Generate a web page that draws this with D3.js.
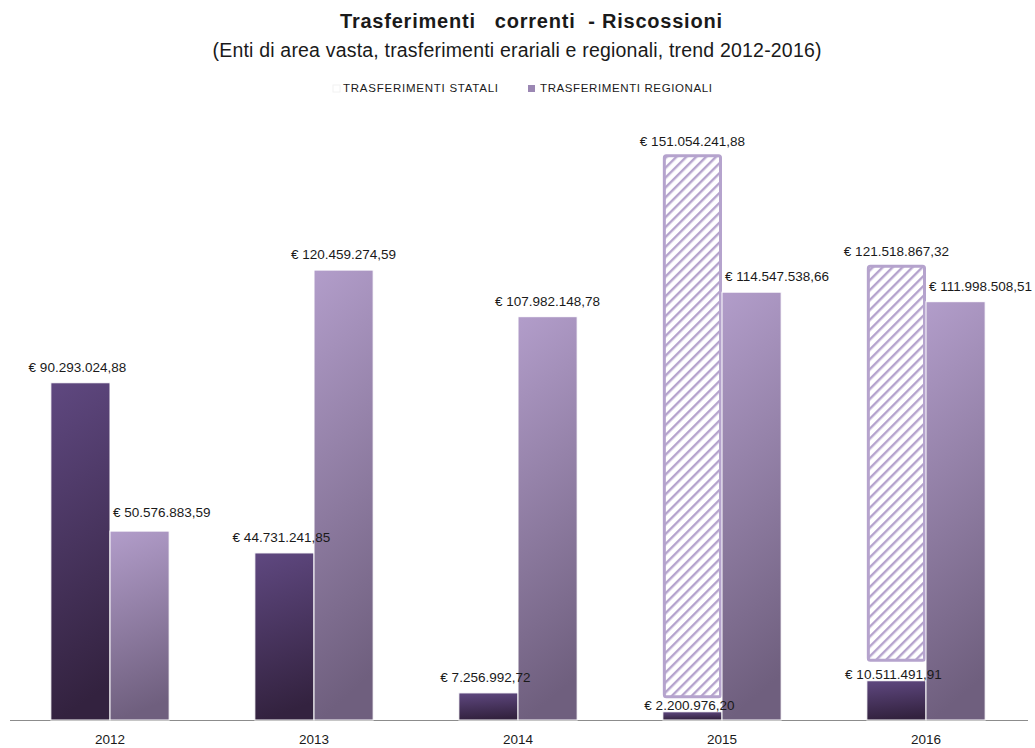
<!DOCTYPE html>
<html lang="it">
<head>
<meta charset="utf-8">
<title>Trasferimenti correnti - Riscossioni</title>
<script src="https://cdn.jsdelivr.net/npm/d3@7"></script>
<style>
	body { margin: 0; background: #fff; }
	text { font-family: "Liberation Sans", Arial, sans-serif; fill: #1a1a1a; }
</style>
</head>
<body>
<div id="chart"></div>
<script>
	// data
	var anni = ["2012", "2013", "2014", "2015", "2016"];
	var statali = [90293024.88, 44731241.85, 7256992.72, 2200976.2, 10511491.91];
	var regionali = [50576883.59, 120459274.59, 107982148.78, 114547538.66, 111998508.51];
	// hatched outline bars shown above the 2015 and 2016 statali values
	var tratteggioTop = [null, null, null, 151054241.88, 121518867.32];
	var tratteggioBase = [null, null, null, 6200000, 16000000];
	var serie = ["TRASFERIMENTI STATALI", "TRASFERIMENTI REGIONALI"];

	var width = 1035, height = 748;

	var svg = d3.select("#chart")
		.append("svg")
		.attr("width", width)
		.attr("height", height);

	var defs = svg.append("defs");

	function gradient(id, top, bottom) {
		var g = defs.append("linearGradient")
			.attr("id", id)
			.attr("x1", 0).attr("y1", 0)
			.attr("x2", 0.12).attr("y2", 1);
		g.append("stop").attr("offset", "0%").attr("stop-color", top);
		g.append("stop").attr("offset", "100%").attr("stop-color", bottom);
	}
	gradient("gradStat", "#5f4880", "#33223f");
	gradient("gradReg", "#b29dca", "#6f5f7e");

	var hatch = defs.append("pattern")
		.attr("id", "hatch")
		.attr("patternUnits", "userSpaceOnUse")
		.attr("width", 7).attr("height", 7)
		.attr("patternTransform", "rotate(45)");
	hatch.append("rect").attr("width", 7).attr("height", 7).attr("fill", "#fff");
	hatch.append("rect").attr("width", 2.4).attr("height", 7).attr("fill", "#b5a3cd");

	// scales
	var x = d3.scaleBand()
		.domain(anni)
		.range([8, 1028])
		.paddingInner(0.42)
		.paddingOuter(0.21);

	var y = d3.scaleLinear()
		.domain([0, 160000000])
		.range([720, 720 - 160 * 3.735]);

	var half = x.bandwidth() / 2;

	var it = d3.formatLocale({ decimal: ",", thousands: ".", grouping: [3], currency: ["€ ", ""] });
	var fmt = it.format("$,.2f");

	// title
	svg.append("text")
		.attr("x", 531).attr("y", 28)
		.attr("text-anchor", "middle")
		.attr("textLength", 382)
		.style("font-weight", "bold")
		.style("font-size", "20px")
		.style("white-space", "pre")
		.text("Trasferimenti   correnti  - Riscossioni");

	svg.append("text")
		.attr("x", 517).attr("y", 57)
		.attr("text-anchor", "middle")
		.attr("textLength", 609)
		.style("font-size", "19.5px")
		.text("(Enti di area vasta, trasferimenti erariali e regionali, trend 2012-2016)");

	// legend
	var legend = svg.append("g").attr("transform", "translate(333,92)");
	legend.append("rect").attr("x", 0).attr("y", -7).attr("width", 7).attr("height", 7)
		.attr("fill", "#fff").attr("stroke", "#f2f2f2");
	legend.append("text").attr("x", 10).attr("y", 0).attr("textLength", 155)
		.style("font-size", "11.5px").text(serie[0]);
	legend.append("rect").attr("x", 195).attr("y", -7).attr("width", 7).attr("height", 7)
		.attr("fill", "#9b87b3");
	legend.append("text").attr("x", 207).attr("y", 0).attr("textLength", 172)
		.style("font-size", "11.5px").text(serie[1]);

	// axis
	var xAxis = svg.append("g")
		.attr("transform", "translate(0,720)")
		.call(d3.axisBottom(x).tickSize(0).tickPadding(14));
	xAxis.select(".domain").attr("stroke", "#8c8c8c").attr("d", "M10,0.5H1028");
	xAxis.selectAll("text")
		.style("font-family", "'Liberation Sans', Arial, sans-serif")
		.style("font-size", "13.5px")
		.attr("fill", "#1a1a1a");

	// hatched bars
	var tIdx = d3.range(anni.length).filter(function (i) { return tratteggioTop[i] != null; });
	svg.append("g").selectAll("rect")
		.data(tIdx).enter()
		.append("rect")
		.attr("x", function (i) { return x(anni[i]) + 1.5; })
		.attr("y", function (i) { return y(tratteggioTop[i]); })
		.attr("width", half - 3)
		.attr("height", function (i) { return y(tratteggioBase[i]) - y(tratteggioTop[i]); })
		.attr("rx", 2)
		.attr("fill", "url(#hatch)")
		.attr("stroke", "#b5a3cd")
		.attr("stroke-width", 3);

	// statali bars
	svg.append("g").selectAll("rect")
		.data(statali).enter()
		.append("rect")
		.attr("x", function (d, i) { return x(anni[i]); })
		.attr("y", function (d) { return y(d); })
		.attr("width", half)
		.attr("height", function (d) { return y(0) - y(d); })
		.attr("fill", "url(#gradStat)")
		.attr("stroke", "#fff")
		.attr("stroke-width", 1);

	// regionali bars
	svg.append("g").selectAll("rect")
		.data(regionali).enter()
		.append("rect")
		.attr("x", function (d, i) { return x(anni[i]) + half; })
		.attr("y", function (d) { return y(d); })
		.attr("width", half)
		.attr("height", function (d) { return y(0) - y(d); })
		.attr("fill", "url(#gradReg)")
		.attr("stroke", "#fff")
		.attr("stroke-width", 1);

	var labels = svg.append("g").style("font-size", "13.5px");

	// labels: statali (tucked between bar and hatched box where there is one)
	labels.selectAll(".ls")
		.data(statali).enter()
		.append("text")
		.attr("class", "ls")
		.attr("x", function (d, i) { return x(anni[i]) + half / 2 - 3; })
		.attr("y", function (d, i) { return tratteggioTop[i] != null ? y(d) - 2 : y(d) - 11; })
		.attr("text-anchor", "middle")
		.text(fmt);

	// labels: hatched
	labels.selectAll(".lt")
		.data(tIdx).enter()
		.append("text")
		.attr("class", "lt")
		.attr("x", function (i) { return x(anni[i]) + half / 2; })
		.attr("y", function (i) { return y(tratteggioTop[i]) - 10; })
		.attr("text-anchor", "middle")
		.text(function (i) { return fmt(tratteggioTop[i]); });

	// labels: regionali (start at bar edge when a taller neighbour sits beside)
	function shifted(d, i) { return tratteggioTop[i] != null || statali[i] > d; }
	labels.selectAll(".lr")
		.data(regionali).enter()
		.append("text")
		.attr("class", "lr")
		.attr("x", function (d, i) {
			return shifted(d, i) ? x(anni[i]) + half + 3 : x(anni[i]) + half * 1.5;
		})
		.attr("y", function (d, i) { return statali[i] > d ? y(d) - 14 : y(d) - 11; })
		.attr("text-anchor", function (d, i) { return shifted(d, i) ? "start" : "middle"; })
		.text(fmt);
</script>
</body>
</html>
